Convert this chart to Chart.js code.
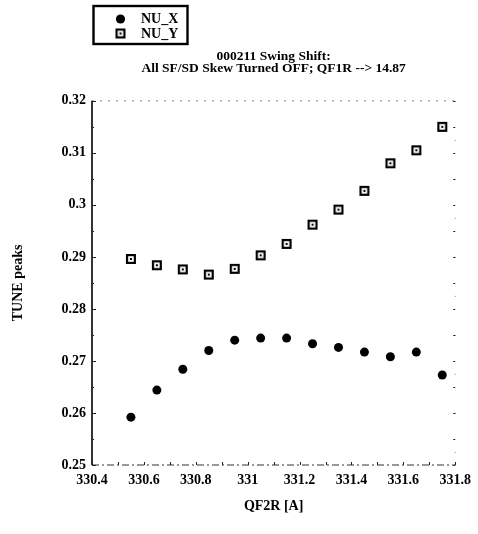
<!DOCTYPE html>
<html>
<head>
<meta charset="utf-8">
<title>Tune peaks vs QF2R</title>
<script src="https://cdn.jsdelivr.net/npm/chart.js@4.4.1/dist/chart.umd.min.js"></script>
<style>
  body { margin: 0; background: #fff; }
  canvas { display: block; }
</style>
</head>
<body>
<canvas id="tune-chart" width="478" height="534"></canvas>
<script>
// QF2R current [A] and measured tune peaks
const qf2r = [330.55, 330.65, 330.75, 330.85, 330.95, 331.05, 331.15, 331.25, 331.35, 331.45, 331.55, 331.65, 331.75];
const nuX = [0.2592, 0.2644, 0.2684, 0.2720, 0.2740, 0.2744, 0.2744, 0.2733, 0.2726, 0.2717, 0.2708, 0.2717, 0.2673];
const nuY = [0.2896, 0.2884, 0.2876, 0.2866, 0.2877, 0.2903, 0.2925, 0.2962, 0.2991, 0.3027, 0.3080, 0.3105, 0.3150];
const seriesNames = ["NU_X", "NU_Y"];
const titleLines = ["000211 Swing Shift:", "All SF/SD Skew Turned OFF; QF1R --> 14.87"];

const serif = "'Liberation Serif', 'DejaVu Serif', serif";

// open square with a dot in the middle for NU_Y
function makeSquareMarker() {
    const c = document.createElement("canvas");
    c.width = 12;
    c.height = 12;
    const g = c.getContext("2d");
    g.fillStyle = "#fff";
    g.fillRect(1, 1, 10, 10);
    g.strokeStyle = "#000";
    g.lineWidth = 2.2;
    g.strokeRect(2.1, 2.1, 7.8, 7.8);
    g.fillStyle = "#000";
    g.fillRect(5, 5, 2, 2);
    return c;
}
const squareMarker = makeSquareMarker();

// axes frame, inward ticks and the boxed legend
const framePlugin = {
    id: "frame",
    afterDraw(chart) {
        const { ctx, chartArea: a, scales } = chart;
        ctx.save();

        // left axis: solid
        ctx.strokeStyle = "#000";
        ctx.lineWidth = 1.6;
        ctx.beginPath();
        ctx.moveTo(a.left, a.top);
        ctx.lineTo(a.left, a.bottom);
        ctx.stroke();

        // bottom axis: broken line
        ctx.lineWidth = 1.2;
        ctx.strokeStyle = "#333";
        ctx.setLineDash([7, 3, 2, 3]);
        ctx.beginPath();
        ctx.moveTo(a.left, a.bottom);
        ctx.lineTo(a.right, a.bottom);
        ctx.stroke();

        // top and right: faint dotted
        ctx.strokeStyle = "#888";
        ctx.lineWidth = 1;
        ctx.setLineDash([2, 6]);
        ctx.beginPath();
        ctx.moveTo(a.left, a.top);
        ctx.lineTo(a.right, a.top);
        ctx.stroke();
        ctx.setLineDash([1, 38]);
        ctx.beginPath();
        ctx.moveTo(a.right, a.top);
        ctx.lineTo(a.right, a.bottom);
        ctx.stroke();
        ctx.setLineDash([]);

        // y ticks, major and minor
        ctx.strokeStyle = "#222";
        ctx.lineWidth = 1;
        for (let v = 0.25; v <= 0.3201; v += 0.005) {
            const y = Math.round(scales.y.getPixelForValue(v)) + 0.5;
            const major = Math.abs(v * 100 - Math.round(v * 100)) < 0.01;
            const len = major ? 4 : 2;
            ctx.beginPath();
            ctx.moveTo(a.left, y);
            ctx.lineTo(a.left + len, y);
            ctx.moveTo(a.right, y);
            ctx.lineTo(a.right - 2, y);
            ctx.stroke();
        }
        // x ticks
        for (let v = 330.4; v <= 331.801; v += 0.1) {
            const x = Math.round(scales.x.getPixelForValue(v)) + 0.5;
            ctx.beginPath();
            ctx.moveTo(x, a.bottom);
            ctx.lineTo(x, a.bottom - 3);
            ctx.stroke();
        }

        // legend box
        ctx.lineWidth = 2.4;
        ctx.strokeStyle = "#000";
        ctx.strokeRect(93.5, 6, 94, 38);
        ctx.font = "bold 14px " + serif;
        ctx.fillStyle = "#000";
        ctx.textBaseline = "middle";
        ctx.beginPath();
        ctx.arc(120.5, 19, 4.6, 0, Math.PI * 2);
        ctx.fill();
        ctx.fillText(seriesNames[0], 141, 19.5);
        ctx.drawImage(squareMarker, 114.5, 27.5);
        ctx.fillText(seriesNames[1], 141, 34);

        ctx.restore();
    }
};

const fmt = v => String(Number(v.toFixed(3)));

new Chart(document.getElementById("tune-chart"), {
    type: "scatter",
    data: {
        datasets: [
            {
                label: seriesNames[0],
                data: qf2r.map((x, i) => ({ x: x, y: nuX[i] })),
                pointStyle: "circle",
                pointRadius: 4.5,
                backgroundColor: "#000",
                borderColor: "#000",
                borderWidth: 0
            },
            {
                label: seriesNames[1],
                data: qf2r.map((x, i) => ({ x: x, y: nuY[i] })),
                pointStyle: squareMarker,
                backgroundColor: "#000",
                borderColor: "#000"
            }
        ]
    },
    options: {
        responsive: false,
        animation: false,
        events: [],
        layout: { padding: { left: 0, right: 18, top: 0, bottom: 0 } },
        plugins: {
            legend: { display: false },
            tooltip: { enabled: false },
            title: {
                display: true,
                text: titleLines,
                fullSize: false,
                color: "#000",
                font: { family: serif, size: 13.5, weight: "bold", lineHeight: 0.92 },
                padding: { top: 50, bottom: 26 }
            }
        },
        scales: {
            x: {
                type: "linear",
                min: 330.4,
                max: 331.8,
                afterFit(scale) { scale.height = 69; },
                border: { display: false },
                grid: { display: false, drawTicks: false },
                ticks: {
                    stepSize: 0.2,
                    padding: 7,
                    color: "#000",
                    font: { family: serif, size: 14, weight: "bold" },
                    callback: v => fmt(v)
                },
                title: {
                    display: true,
                    text: "QF2R [A]",
                    color: "#000",
                    font: { family: serif, size: 14, weight: "bold" },
                    padding: { top: 0, bottom: 19 }
                }
            },
            y: {
                min: 0.25,
                max: 0.32,
                afterFit(scale) { scale.width = 92; },
                border: { display: false },
                grid: { display: false, drawTicks: false },
                ticks: {
                    stepSize: 0.01,
                    padding: 6,
                    color: "#000",
                    font: { family: serif, size: 14, weight: "bold" },
                    callback: v => fmt(v)
                },
                title: {
                    display: true,
                    text: "TUNE peaks",
                    color: "#000",
                    font: { family: serif, size: 14, weight: "bold" },
                    padding: { top: 10, bottom: 0 }
                }
            }
        }
    },
    plugins: [framePlugin]
});
</script>
</body>
</html>
